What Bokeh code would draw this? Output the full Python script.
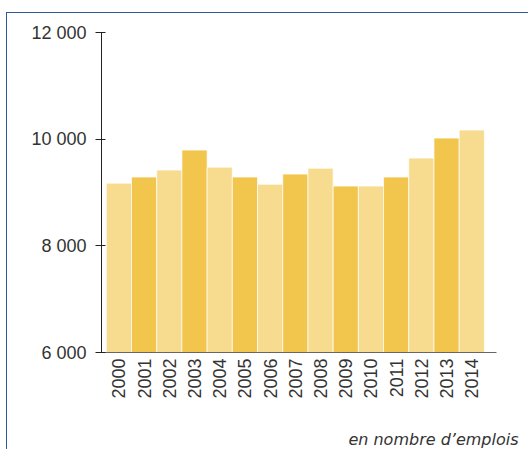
import math
from bokeh.plotting import figure
from bokeh.models import FixedTicker, Title, ColumnDataSource, Range1d
from bokeh.embed import file_html
from bokeh.resources import INLINE

years = ["2000", "2001", "2002", "2003", "2004", "2005", "2006", "2007",
         "2008", "2009", "2010", "2011", "2012", "2013", "2014"]
values = [9175, 9290, 9420, 9795, 9475, 9290, 9155, 9345,
          9455, 9120, 9120, 9290, 9645, 10020, 10170]
y_ticks = [6000, 8000, 10000, 12000]
y_tick_labels = ["6 000", "8 000", "10 000", "12 000"]
note = "en nombre d\u2019emplois"

LIGHT = "#F7DB8E"
DARK = "#F2C54C"
colors = [LIGHT if i % 2 == 0 else DARK for i in range(len(years))]
xs = list(range(len(years)))

src = ColumnDataSource(dict(x=xs, top=values, color=colors))

p = figure(width=522, height=437, output_backend="svg", toolbar_location=None,
           x_range=Range1d(-0.69, 14.98), y_range=Range1d(6000, 12000),
           min_border_left=94, min_border_right=33, min_border_top=19,
           min_border_bottom=98,
           styles={"border-top": "1px solid #2E5A93",
                   "border-left": "1px solid #2E5A93",
                   "margin-left": "6px", "margin-top": "12px"})
p.outline_line_color = None
p.grid.grid_line_color = None
p.background_fill_color = "white"
p.border_fill_color = "white"

p.vbar(x="x", top="top", bottom=6000, width=1.0, fill_color="color",
       line_color="white", line_width=0.7, source=src)

ya = p.yaxis[0]
ya.ticker = FixedTicker(ticks=y_ticks)
ya.major_label_overrides = {t: l for t, l in zip(y_ticks, y_tick_labels)}
ya.axis_line_color = "#222222"
ya.major_tick_line_color = "#222222"
ya.major_tick_out = 6
ya.major_tick_in = 4
ya.minor_tick_line_color = None
ya.major_label_standoff = 9
ya.major_label_text_font = "Liberation Sans"
ya.major_label_text_font_size = "18px"
ya.major_label_text_color = "#333333"

xa = p.xaxis[0]
xa.ticker = FixedTicker(ticks=xs)
xa.major_label_overrides = {i: y for i, y in zip(xs, years)}
xa.major_label_orientation = math.pi / 2
xa.axis_line_color = "#666666"
xa.major_tick_line_color = None
xa.minor_tick_line_color = None
xa.major_tick_out = 0
xa.major_tick_in = 0
xa.major_label_standoff = 6
xa.major_label_text_font = "Liberation Sans"
xa.major_label_text_font_size = "18px"
xa.major_label_text_color = "#333333"
# blank axis label used only as vertical spacer before the note
xa.axis_label = " "
xa.axis_label_standoff = 6
xa.axis_label_text_font_size = "16px"

t = Title(text=note, align="right", text_font="DejaVu Sans",
          text_font_style="italic", text_font_size="16px",
          text_color="#333333", standoff=0, offset=-22)
p.add_layout(t, "below")

open("out.html", "w").write(file_html(p, INLINE))
